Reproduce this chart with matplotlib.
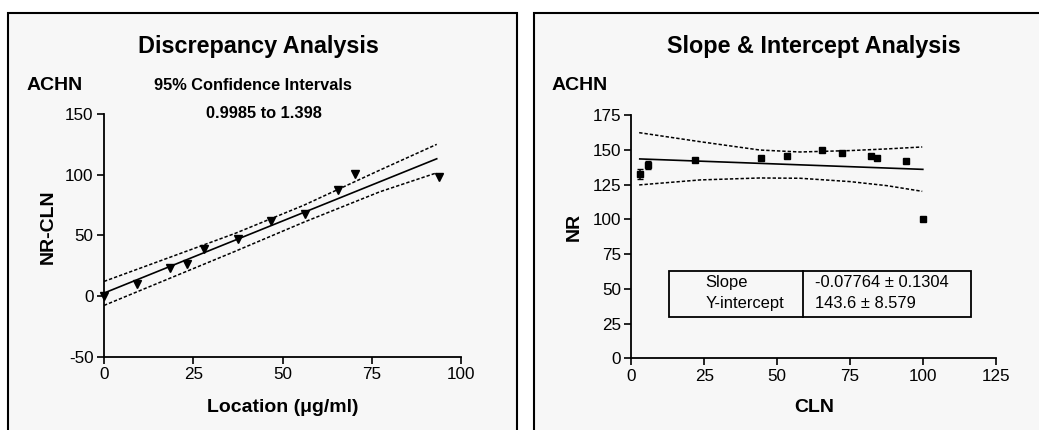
import matplotlib
matplotlib.use("Agg")
import matplotlib.pyplot as plt
from matplotlib.patches import Rectangle

plt.rcParams['font.family'] = ['Liberation Sans', 'DejaVu Sans']
plt.rcParams['axes.unicode_minus'] = False

# left panel: discrepancy analysis
loc_x = [0, 9.2, 18.5, 23.3, 28.0, 37.4, 46.9, 56.2, 65.5, 70.4, 93.8]
loc_y = [0, 9.9, 23.4, 26.4, 38.7, 47.0, 62.0, 68.0, 87.6, 100.5, 98.4]
fit_x = [0, 93.2]
fit_y = [2.5, 113.3]
band_x = [0, 36.7, 56.0, 77.3, 93.2]
band_hi = [12.1, 51.7, 75.0, 104.0, 125.2]
band_lo = [-7.7, 36.9, 61.0, 86.1, 101.7]

# right panel: slope & intercept analysis
cln = [2.9, 5.8, 21.8, 44.6, 53.5, 65.3, 72.2, 82.3, 84.3, 94.1, 100.1]
nr = [132.6, 138.8, 142.4, 143.8, 145.3, 149.8, 147.4, 145.3, 144.1, 142.2, 100.0]
nr_err = [3.5, 3.0, 0, 0, 0, 0, 0, 0, 0, 0, 0]
nr_fit_x = [2.9, 100]
nr_fit_y = [143.4, 135.9]
nr_band_x = [2.7, 23.6, 44.1, 57.9, 75.0, 87.6, 99.8]
nr_band_hi = [162.3, 155.8, 149.8, 148.4, 149.4, 150.6, 152.0]
nr_band_lo = [124.7, 128.3, 129.7, 129.5, 127.1, 124.2, 120.1]

W, H = 1039, 430
fig = plt.figure(figsize=(W / 100, H / 100), dpi=100)
fig.patch.set_facecolor('white')

# panel frames
for x0, x1 in [(8, 517), (534, 1060)]:
    fig.patches.append(Rectangle((x0 / W, -0.1), (x1 - x0) / W, 1.1 - 13 / H,
                                 transform=fig.transFigure, facecolor='#f7f7f7',
                                 edgecolor='black', linewidth=1.5, zorder=-1))


def style(ax):
    ax.set_facecolor('none')
    for s in ['top', 'right']:
        ax.spines[s].set_visible(False)
    for s in ['left', 'bottom']:
        ax.spines[s].set_linewidth(1.3)
    ax.tick_params(direction='out', length=5, width=1.2, labelsize=12.3, pad=2.5)


ax1 = fig.add_axes([104 / W, 1 - 356.7 / H, 357 / W, 242.4 / H])
style(ax1)
ax1.plot(fit_x, fit_y, color='black', lw=1.2)
ax1.plot(band_x, band_hi, color='black', lw=1.1, ls=(0, (2.2, 1.3)))
ax1.plot(band_x, band_lo, color='black', lw=1.1, ls=(0, (2.2, 1.3)))
ax1.plot(loc_x, loc_y, 'v', color='black', ms=5.5, clip_on=False)
ax1.set_xlim(0, 100)
ax1.set_ylim(-50, 150)
ax1.set_xticks([0, 25, 50, 75, 100])
ax1.set_yticks([-50, 0, 50, 100, 150])

ax2 = fig.add_axes([631.3 / W, 1 - 358.3 / H, 364.4 / W, 243.3 / H])
style(ax2)
ax2.plot(nr_fit_x, nr_fit_y, color='black', lw=1.2)
ax2.plot(nr_band_x, nr_band_hi, color='black', lw=1.1, ls=(0, (2.2, 1.3)))
ax2.plot(nr_band_x, nr_band_lo, color='black', lw=1.1, ls=(0, (2.2, 1.3)))
ax2.errorbar(cln, nr, yerr=nr_err, fmt='s', color='black', ms=4.8,
             elinewidth=1.1, capsize=2.5, clip_on=False)
ax2.set_xlim(0, 125)
ax2.set_ylim(0, 175)
ax2.set_xticks([0, 25, 50, 75, 100, 125])
ax2.set_yticks([0, 25, 50, 75, 100, 125, 150, 175])

# results table
ax2.add_patch(Rectangle((12.9, 29.7), 103.5, 33.1, facecolor='none',
                        edgecolor='black', lw=1.3))
ax2.plot([59.0, 59.0], [29.7, 62.8], color='black', lw=1.3)
ax2.text(25.5, 54.4, 'Slope', fontsize=11.9, va='center')
ax2.text(25.5, 39.1, 'Y-intercept', fontsize=11.9, va='center')
ax2.text(63.0, 54.4, '-0.07764 ± 0.1304', fontsize=11.9, va='center')
ax2.text(63.0, 39.1, '143.6 ± 8.579', fontsize=11.9, va='center')

# texts
fig.text(258 / W, 1 - 46 / H, 'Discrepancy Analysis', ha='center', va='center',
         fontsize=16.8, fontweight='bold')
fig.text(27 / W, 1 - 86 / H, 'ACHN', ha='left', va='center', fontsize=14, fontweight='bold')
fig.text(253 / W, 1 - 86 / H, '95% Confidence Intervals', ha='center', va='center',
         fontsize=11.8, fontweight='bold')
fig.text(264 / W, 1 - 113 / H, '0.9985 to 1.398', ha='center', va='center',
         fontsize=11.8, fontweight='bold')
fig.text(283 / W, 1 - 407 / H, 'Location (μg/ml)', ha='center', va='center',
         fontsize=14, fontweight='bold')
fig.text(48 / W, 1 - 227 / H, 'NR-CLN', ha='center', va='center', rotation=90,
         fontsize=14, fontweight='bold')

fig.text(814 / W, 1 - 46 / H, 'Slope & Intercept Analysis', ha='center', va='center',
         fontsize=16.8, fontweight='bold')
fig.text(552 / W, 1 - 86 / H, 'ACHN', ha='left', va='center', fontsize=14, fontweight='bold')
fig.text(574 / W, 1 - 227 / H, 'NR', ha='center', va='center', rotation=90,
         fontsize=14, fontweight='bold')
fig.text(814 / W, 1 - 407 / H, 'CLN', ha='center', va='center',
         fontsize=14, fontweight='bold')

fig.savefig('out.png', dpi=100)
